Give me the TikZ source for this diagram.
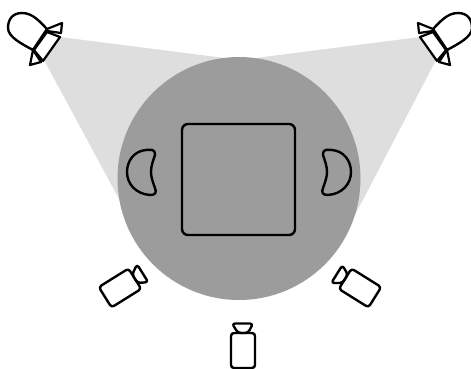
\documentclass[tikz,border=0pt]{standalone}
\definecolor{cone}{HTML}{DEDEDE}
\definecolor{disc}{HTML}{9C9C9C}
\tikzset{
  ink/.style={draw=black,line width=2.4pt,line join=round,line cap=round},
  softink/.style={ink,rounded corners=3pt},
  lamp/.pic={
    \draw[ink] (47,29) .. controls (40,22) and (33,13) .. (22,13) .. controls (12,13) and (8,20) .. (8,28) .. controls (8,37) and (22,44) .. (33,50) -- cycle;
    \draw[ink,line width=2.2pt] (47,29) -- (62,23) -- (61,33) -- (47,31) -- cycle;
    \draw[ink,line width=2.2pt] (33,50) -- (30,65) -- (41,62) -- cycle;
    \draw[ink,line width=2.2pt] (47,32) -- (60,37) -- (43,61) -- (34,50) -- cycle;
  },
  camera/.pic={
    \draw[softink] (-12,-17.5) rectangle (12,17.5);
    \draw[softink] (-5,-17.5) -- (-11,-27) -- (10,-27) -- (5,-17.5) -- cycle;
  },
  seat/.pic={
    \draw[ink] (155,155) .. controls (155,148) and (150,150) .. (146,150) .. controls (134,151) and (127,161) .. (127,172) .. controls (127,184) and (136,194) .. (150,195) .. controls (155,195) and (157,193) .. (155,188) .. controls (152,180) and (151,176) .. (151,172) .. controls (151,166) and (153,161) .. (155,155) -- cycle;
  }
}
\begin{document}
\begin{tikzpicture}[x=1pt,y=-1pt]
\useasboundingbox (0,0) rectangle (471,369);
\fill[cone] (60,37) -- (240,60) -- (125,210) -- (44,60) -- cycle;
\fill[cone] (420,37) -- (240,60) -- (355,215) -- (436,60) -- cycle;
\fill[disc] (239,178.5) circle[radius=121.5];
\draw[ink,rounded corners=6pt] (182,124) rectangle (295,235);
\pic at (0,0) {seat};
\pic[xscale=-1] at (478,0) {seat};
\pic at (0,0) {lamp};
\pic[xscale=-1] at (480,0) {lamp};
\pic at (243,350.5) {camera};
\pic[rotate=-58] at (120,288) {camera};
\pic[rotate=58] at (360,288) {camera};
\end{tikzpicture}
\end{document}
